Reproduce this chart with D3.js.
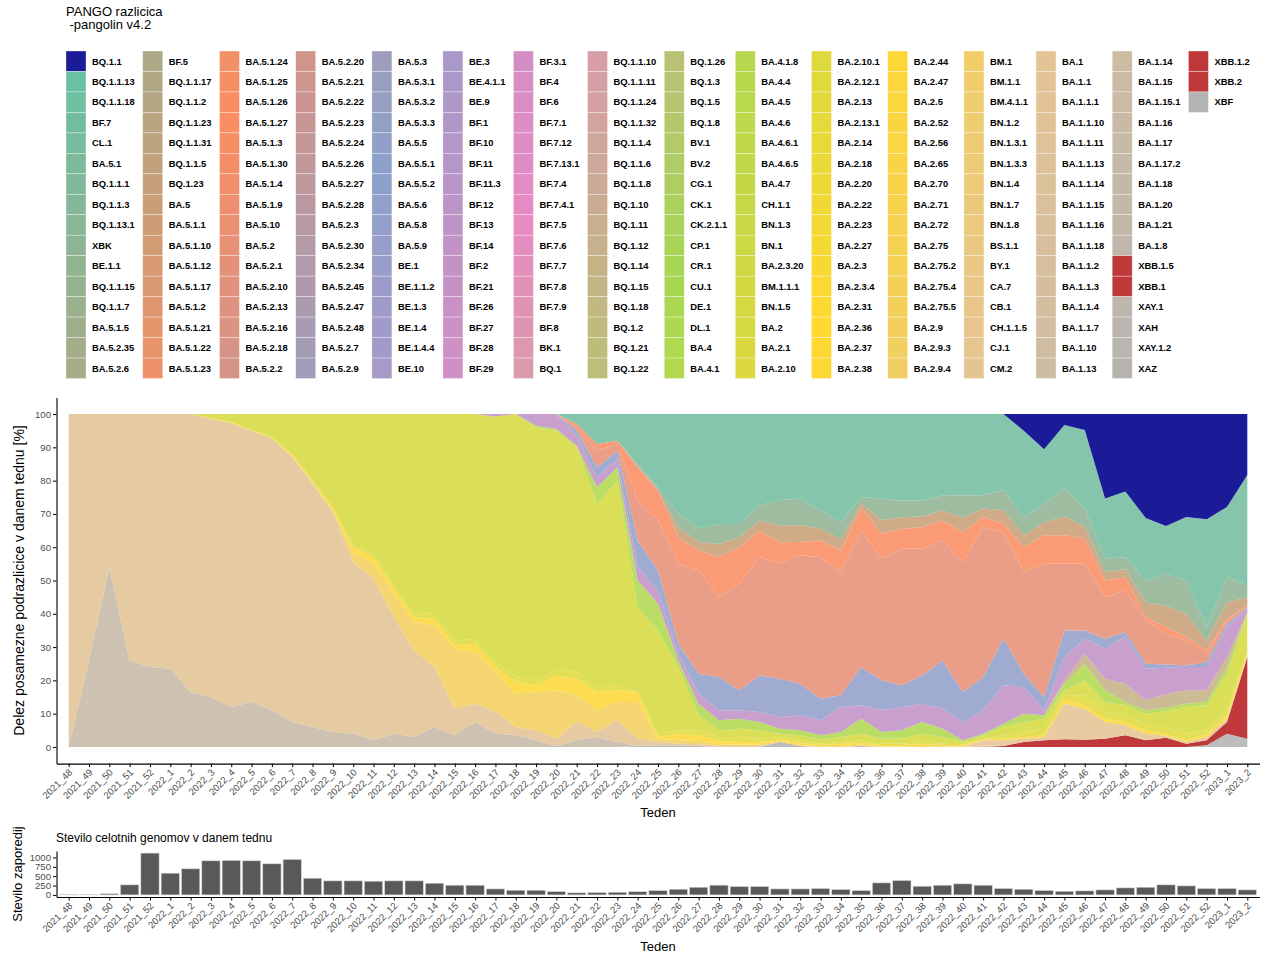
<!DOCTYPE html>
<html>
<head>
<meta charset="utf-8">
<script src="https://cdn.jsdelivr.net/npm/d3@7"></script>
<style>
  body { margin: 0; background: #fff; }
  svg text { font-family: "Liberation Sans", Arial, Helvetica, sans-serif; }
  .axis text { fill: #4d4d4d; font-size: 9.6px; }
  .axis path, .axis line { stroke: #000; }
</style>
</head>
<body>
<svg id="chart" width="1268" height="954"></svg>
<script>
// weeks (ISO year_week)
var weeks = ['2021_48','2021_49','2021_50','2021_51','2021_52',
  '2022_1','2022_2','2022_3','2022_4','2022_5','2022_6','2022_7','2022_8','2022_9','2022_10',
  '2022_11','2022_12','2022_13','2022_14','2022_15','2022_16','2022_17','2022_18','2022_19','2022_20',
  '2022_21','2022_22','2022_23','2022_24','2022_25','2022_26','2022_27','2022_28','2022_29','2022_30',
  '2022_31','2022_32','2022_33','2022_34','2022_35','2022_36','2022_37','2022_38','2022_39','2022_40',
  '2022_41','2022_42','2022_43','2022_44','2022_45','2022_46','2022_47','2022_48','2022_49','2022_50',
  '2022_51','2022_52','2023_1','2023_2'];

// number of whole genomes per week
var genomes = [8, 10, 30, 268, 1116, 580, 696, 910, 920, 910, 830, 946, 446, 375, 375,
  366, 375, 375, 312, 259, 259, 160, 125, 125, 89, 54, 62, 71, 85, 115,
  152, 205, 260, 223, 223, 160, 160, 170, 143, 116, 321, 384, 232, 259, 295,
  259, 170, 152, 116, 98, 107, 134, 187, 205, 268, 241, 170, 170, 134];

// PANGO lineages, in legend order
var lineages = [
  'BQ.1.1','BQ.1.1.13','BQ.1.1.18','BF.7','CL.1','BA.5.1','BQ.1.1.1','BQ.1.1.3','BQ.1.13.1','XBK','BE.1.1','BQ.1.1.15','BQ.1.1.7','BA.5.1.5','BA.5.2.35','BA.5.2.6',
  'BF.5','BQ.1.1.17','BQ.1.1.2','BQ.1.1.23','BQ.1.1.31','BQ.1.1.5','BQ.1.23','BA.5','BA.5.1.1','BA.5.1.10','BA.5.1.12','BA.5.1.17','BA.5.1.2','BA.5.1.21','BA.5.1.22','BA.5.1.23',
  'BA.5.1.24','BA.5.1.25','BA.5.1.26','BA.5.1.27','BA.5.1.3','BA.5.1.30','BA.5.1.4','BA.5.1.9','BA.5.10','BA.5.2','BA.5.2.1','BA.5.2.10','BA.5.2.13','BA.5.2.16','BA.5.2.18','BA.5.2.2',
  'BA.5.2.20','BA.5.2.21','BA.5.2.22','BA.5.2.23','BA.5.2.24','BA.5.2.26','BA.5.2.27','BA.5.2.28','BA.5.2.3','BA.5.2.30','BA.5.2.34','BA.5.2.45','BA.5.2.47','BA.5.2.48','BA.5.2.7','BA.5.2.9',
  'BA.5.3','BA.5.3.1','BA.5.3.2','BA.5.3.3','BA.5.5','BA.5.5.1','BA.5.5.2','BA.5.6','BA.5.8','BA.5.9','BE.1','BE.1.1.2','BE.1.3','BE.1.4','BE.1.4.4','BE.10',
  'BE.3','BE.4.1.1','BE.9','BF.1','BF.10','BF.11','BF.11.3','BF.12','BF.13','BF.14','BF.2','BF.21','BF.26','BF.27','BF.28','BF.29',
  'BF.3.1','BF.4','BF.6','BF.7.1','BF.7.12','BF.7.13.1','BF.7.4','BF.7.4.1','BF.7.5','BF.7.6','BF.7.7','BF.7.8','BF.7.9','BF.8','BK.1','BQ.1',
  'BQ.1.1.10','BQ.1.1.11','BQ.1.1.24','BQ.1.1.32','BQ.1.1.4','BQ.1.1.6','BQ.1.1.8','BQ.1.10','BQ.1.11','BQ.1.12','BQ.1.14','BQ.1.15','BQ.1.18','BQ.1.2','BQ.1.21','BQ.1.22',
  'BQ.1.26','BQ.1.3','BQ.1.5','BQ.1.8','BV.1','BV.2','CG.1','CK.1','CK.2.1.1','CP.1','CR.1','CU.1','DE.1','DL.1','BA.4','BA.4.1',
  'BA.4.1.8','BA.4.4','BA.4.5','BA.4.6','BA.4.6.1','BA.4.6.5','BA.4.7','CH.1.1','BN.1.3','BN.1','BA.2.3.20','BM.1.1.1','BN.1.5','BA.2','BA.2.1','BA.2.10',
  'BA.2.10.1','BA.2.12.1','BA.2.13','BA.2.13.1','BA.2.14','BA.2.18','BA.2.20','BA.2.22','BA.2.23','BA.2.27','BA.2.3','BA.2.3.4','BA.2.31','BA.2.36','BA.2.37','BA.2.38',
  'BA.2.44','BA.2.47','BA.2.5','BA.2.52','BA.2.56','BA.2.65','BA.2.70','BA.2.71','BA.2.72','BA.2.75','BA.2.75.2','BA.2.75.4','BA.2.75.5','BA.2.9','BA.2.9.3','BA.2.9.4',
  'BM.1','BM.1.1','BM.4.1.1','BN.1.2','BN.1.3.1','BN.1.3.3','BN.1.4','BN.1.7','BN.1.8','BS.1.1','BY.1','CA.7','CB.1','CH.1.1.5','CJ.1','CM.2',
  'BA.1','BA.1.1','BA.1.1.1','BA.1.1.10','BA.1.1.11','BA.1.1.13','BA.1.1.14','BA.1.1.15','BA.1.1.16','BA.1.1.18','BA.1.1.2','BA.1.1.3','BA.1.1.4','BA.1.1.7','BA.1.10','BA.1.13',
  'BA.1.14','BA.1.15','BA.1.15.1','BA.1.16','BA.1.17','BA.1.17.2','BA.1.18','BA.1.20','BA.1.21','BA.1.8','XBB.1.5','XBB.1','XAY.1','XAH','XAY.1.2','XAZ',
  'XBB.1.2','XBB.2','XBF'
];

// weekly share [%] of the main lineage groups
var xbf    = [0,0,0,0,0,0,0,0,0,0,0,0,0,0,0,0,0,0,0,0,0,0,0,0,0,0,0,0,0.3,0.5,0.5,0.3,0,0,0,1.5,0.3,0,0,0.3,0,0,0,0,0,0,0,0,0,0,0,0,0,0,0,0,0.5,4,2.5];
var xbb15  = [0,0,0,0,0,0,0,0,0,0,0,0,0,0,0,0,0,0,0,0,0,0,0,0,0,0,0,0,0,0,0,0,0,0,0,0,0,0,0,0,0,0,0,0,0,0,0.3,1.5,2,2.3,2.2,2.5,3.5,2,2.8,1,1.5,3.5,24.5];
var ba1172 = [0,26,54,26,24,23.5,16.5,15,12,13.5,11,7.5,6,4.5,4,2,4,3,6,3.5,7.5,4,3.5,2,0.3,2,3,1.5,0,0,0,0,0,0,0,0,0,0,0,0,0,0,0,0,0,0,0,0,0,0,0,0,0,0,0,0,0,0,0];
var ba11   = [100,74,46,74,76,76.5,83.5,83.5,85.3,81.5,81.7,79.5,73,66,51.5,48.5,35,26,18,8,5.5,6.5,2.5,3,2.2,5.5,1.5,6.5,2.2,1,0.5,0.5,0.3,0.3,0.3,0,0,0,0,0,0,0,0,0,0,0.5,0,0,0,0,0,0,0,0,0,0,0,0,0];
var cm2    = [0,0,0,0,0,0,0,0,0,0,0,0,0,0,0,0,0,0,0,0,0,0,0,0,0,0,0,0,0,0,0,0,0,0,0,0,0,0,0,0,0,0,0,0,0,1.5,1.7,1,1,10.7,9.3,5,3,2,0.5,0.5,1,1,0.5];
var ba29   = [0,0,0,0,0,0,0,0,0,0,0,0.5,0.5,0.5,3,4.5,7,8.5,12.5,18,15.5,12,10,11.5,14.5,8,6.5,5.5,11,1,1,1,0.5,0.4,0.4,0.3,0.3,0.2,0.3,0.4,0.2,0.2,0.3,0.2,0.2,0,0,0,0,0,0,0,0,0,0,0,0,0,0];
var ba244  = [0,0,0,0,0,0,0,0.2,0.2,0.3,0.3,0.5,0.5,1,1.5,2,1.5,1.5,2,1,2.5,1.5,3.5,2,4.5,5,5.5,3.5,3,0.5,2,1.7,1,0.8,0.8,0.5,0.6,0.4,0.6,0.6,0.4,0.4,0.6,0.4,0.3,0.5,0.5,0.5,0.5,1.5,1,1,1,1,0.5,0.5,1,1,0.5];
var ba2121 = [0,0,0,0,0,0,0,0,0,0,0,0,0,0,0.5,1,1,1.5,1.5,1.5,1.5,1.5,1.5,1.5,2,2,1.5,1.5,0,1,1,1.5,1.2,1.5,1,0.7,0.8,0.4,0.6,0.7,0.4,0.4,0.6,0.4,0.3,0,1,1.5,2,1,3,2,2,2,2,2,1,1.5,1];
var ba2    = [0,0,0,0,0,0,0,1.3,2.5,4.7,7,12,20,28,39.5,42,51.5,59.5,60,68,67.5,73.8,79,76,71.5,67.5,55,61.5,25.5,31,19,4.5,2,2.5,2.5,1,1.5,1.2,1.5,2,1.5,1.5,2.5,2,0.7,1,2.5,3,3,1.5,4.5,3,3,3,5,8,7.5,11,11];
var ba4    = [0,0,0,0,0,0,0,0,0,0,0,0,0,0,0,0,0,0,0,0,0,0,0,0.5,0.5,0.5,5,4,8,8,2,3.5,3,3,2.5,1.5,1.5,1.3,1.5,4.5,2,2.5,3.5,2.5,0.5,0.5,1,2.5,1,2,5,3.5,1,1,1,1,1,2,0.5];
var bq114  = [0,0,0,0,0,0,0,0,0,0,0,0,0,0,0,0,0,0,0,0,0,0,0,0,0,0,0,0,0,0,0,0,0,0,0,0,0,0,0,0,0,0,0,0,0,0,0,0,0,1,3,3.5,5.5,3,4,4,3.5,3,0];
var bf14   = [0,0,0,0,0,0,0,0,0,0,0,0,0,0,0,0,0,0,0,0,0,0.7,0,3.5,4.5,3,3,2.5,4,4,2,3,3,2.5,3,3.5,4.5,4.5,7.5,4,6.5,7,5.5,6,5.5,7,11.5,8,1.5,7,4.5,9,14,9.5,8,7,7,9,1];
var ba56   = [0,0,0,0,0,0,0,0,0,0,0,0,0,0,0,0,0,0,0,0,0,0,0,0,0,1.5,3,2.5,8,6,3,6,10,6,11,11.5,9.5,6.5,3.5,11.5,9,6.5,8.5,14.5,9,10,14,4,4,8,2.5,3,1.5,1.5,1,0.5,1.5,1,0.3];
var ba52   = [0,0,0,0,0,0,0,0,0,0,0,0,0,0,0,0,0,0,0,0,0,0,0,0,0,1,5,2,12,15,24,31,24,32,35.5,34.6,38.6,42.5,37,41,36.6,41,38,36,39,45,32,30.6,40,20,20,12.5,12.5,13,9.2,7.5,2.5,1,0.5];
var ba5127 = [0,0,0,0,0,0,0,0,0,0,0,0,0,0,0,0,0,0,0,0,0,0,0,0,0,1,2,1,10,9,8,6,12,11,8,6.4,4,5,6.5,7,7.4,6,6.5,6,9,3,2.6,7.4,8.6,8.6,7.6,5,4,1,2,1,1,0.5,0.2];
var ba5    = [0,0,0,0,0,0,0,0,0,0,0,0,0,0,0,0,0,0,0,0,0,0,0,0,0,0,0,0,0.4,0.4,3,2.6,4,3,3,5,5,3.6,3.4,1.2,4.2,3.4,3.2,3,4.4,2.6,4.1,3.6,3.8,5.6,3.6,2.6,2.4,4.4,6.4,7,2.8,5,2.4];
var be11   = [0,0,0,0,0,0,0,0,0,0,0,0,0,0,0,0,0,0,0,0,0,0,0,0,0,0,0,0,0.6,0.6,4,4,6,4,4.6,7.6,8,5.4,5.2,1.8,6.4,5,4.8,4.6,6.6,4,6,5.4,5.6,8.5,5.4,4,3.6,6.6,9.6,10,4.2,7.5,3.6];
var bf7    = [0,0,0,0,0,0,0,0,0,0,0,0,0,0,0,0,0,0,0,0,0,0,0,0,0,3,9,8,15,22,30,34.4,33,33,27.4,25.9,25.4,29,32.4,25,25.4,26,26,24.4,24.5,24.4,22.8,26,16.4,19,23.6,18,19.7,18.8,14.4,19.1,32.4,21.1,33.2];
var bq11   = [0,0,0,0,0,0,0,0,0,0,0,0,0,0,0,0,0,0,0,0,0,0,0,0,0,0,0,0,0,0,0,0,0,0,0,0,0,0,0,0,0,0,0,0,0,0,0,5,10.6,3.3,4.8,25.4,23.3,31.2,33.6,30.9,31.6,27.9,18.3];

// stacking order, bottom to top
var bandKeys = ['XBF','XBB.1.5','BA.1.17.2','BA.1.1','CM.2','BA.2.9','BA.2.44','BA.2.12.1','BA.2',
  'BA.4','BQ.1.14','BF.14','BA.5.6','BA.5.2','BA.5.1.27','BA.5','BE.1.1','BF.7','BQ.1.1'];
var bandValues = [xbf, xbb15, ba1172, ba11, cm2, ba29, ba244, ba2121, ba2,
  ba4, bq114, bf14, ba56, ba52, ba5127, ba5, be11, bf7, bq11];
var solidBands = ['BQ.1.1', 'XBB.1.5'];

var rows = weeks.map(function (w, i) {
  var r = {week: w};
  bandKeys.forEach(function (k, j) { r[k] = bandValues[j][i]; });
  return r;
});

// colours: Set2 ramp over all lineages, with a few picked out
var set2 = ['#66c2a5','#fc8d62','#8da0cb','#e78ac3','#a6d854','#ffd92f','#e5c494','#b3b3b3'];
var ramp = d3.piecewise(d3.interpolateRgb, set2);
var special = {'BQ.1.1': '#1b1a97', 'XBB.1.5': '#bf393b', 'XBB.1': '#bf393b', 'XBB.1.2': '#bf393b', 'XBB.2': '#bf393b'};
var colour = d3.scaleOrdinal()
  .domain(lineages)
  .range(lineages.map(function (l, i) { return special[l] || ramp(i / (lineages.length - 1)); }));

var svg = d3.select('#chart');

// ---- legend ----
svg.append('text').attr('x', 66).attr('y', 15.5).style('font-size', '13px').text('PANGO razlicica');
svg.append('text').attr('x', 69.5).attr('y', 28.5).style('font-size', '13px').text('-pangolin v4.2');

var rowH = 20.47, keyW = 20, legTop = 51;
var colX = 66;
d3.range(Math.ceil(lineages.length / 16)).forEach(function (c) {
  var items = lineages.slice(c * 16, c * 16 + 16);
  var g = svg.append('g').attr('transform', 'translate(' + colX + ',0)');
  g.selectAll('rect').data(items).enter().append('rect')
    .attr('x', 0)
    .attr('y', function (d, i) { return legTop + i * rowH; })
    .attr('width', keyW)
    .attr('height', rowH)
    .attr('fill', colour)
    .attr('stroke', '#fff')
    .attr('stroke-opacity', 0.55)
    .attr('stroke-width', 0.6);
  var t = g.selectAll('text').data(items).enter().append('text')
    .attr('x', 26)
    .attr('y', function (d, i) { return legTop + i * rowH + rowH / 2; })
    .attr('dy', '0.35em')
    .style('font-size', '9.4px')
    .style('font-weight', 'bold')
    .text(function (d) { return d; });
  var maxW = d3.max(t.nodes(), function (n) { return n.getComputedTextLength(); });
  colX += 26 + maxW + 8;
});

// ---- main stacked area ----
var x = d3.scalePoint().domain(weeks).range([56.5, 1259.5]).padding(0.6);
var y = d3.scaleLinear().domain([-0.05, 1.05]).range([763.6, 397.4]);

var series = d3.stack().keys(bandKeys).offset(d3.stackOffsetExpand)(rows);
var area = d3.area()
  .x(function (d) { return x(d.data.week); })
  .y0(function (d) { return y(d[0]); })
  .y1(function (d) { return y(d[1]); });

svg.append('g').selectAll('path').data(series).enter().append('path')
  .attr('d', area)
  .attr('fill', function (s) { return colour(s.key); })
  .attr('fill-opacity', function (s) { return solidBands.indexOf(s.key) >= 0 ? 1 : 0.88; });

var yAxis = svg.append('g').attr('class', 'axis')
  .attr('transform', 'translate(56.5,0)')
  .call(d3.axisLeft(y).tickValues(d3.range(0, 11).map(function (d) { return d / 10; }))
    .tickFormat(function (d) { return Math.round(d * 100); })
    .tickSize(3.5).tickSizeOuter(0).tickPadding(2));
yAxis.select('.domain').attr('stroke-width', 1.1);

function rotateLabels(sel) {
  sel.selectAll('.tick text')
    .attr('transform', 'rotate(-45)')
    .attr('text-anchor', 'end')
    .attr('x', -4).attr('y', 6).attr('dy', '0.35em');
}

var xAxis = svg.append('g').attr('class', 'axis')
  .attr('transform', 'translate(0,763.6)')
  .call(d3.axisBottom(x).tickSize(3.5).tickSizeOuter(0));
xAxis.select('.domain').attr('stroke-width', 1.1);
rotateLabels(xAxis);

svg.append('text')
  .attr('transform', 'translate(24,580.5) rotate(-90)')
  .attr('text-anchor', 'middle')
  .style('font-size', '14px')
  .text('Delez posamezne podrazlicice v danem tednu [%]');
svg.append('text').attr('x', 658).attr('y', 817).attr('text-anchor', 'middle')
  .style('font-size', '13px').text('Teden');

// ---- bottom: genomes per week ----
var maxG = d3.max(genomes);
var yb = d3.scaleLinear().domain([-0.05 * maxG, 1.05 * maxG]).range([897, 851]);
var bw = x.step() * 0.9;

svg.append('g').selectAll('rect').data(genomes).enter().append('rect')
  .attr('x', function (d, i) { return x(weeks[i]) - bw / 2; })
  .attr('y', function (d) { return yb(d); })
  .attr('width', bw)
  .attr('height', function (d) { return yb(0) - yb(d); })
  .attr('fill', '#595959')
  .attr('stroke', '#d6d6d6')
  .attr('stroke-width', 0.6);

var ybAxis = svg.append('g').attr('class', 'axis')
  .attr('transform', 'translate(56.5,0)')
  .call(d3.axisLeft(yb).tickValues([0, 250, 500, 750, 1000]).tickFormat(d3.format('d'))
    .tickSize(3.5).tickSizeOuter(0).tickPadding(2));
ybAxis.select('.domain').attr('stroke-width', 1.1);

var xbAxis = svg.append('g').attr('class', 'axis')
  .attr('transform', 'translate(0,897)')
  .call(d3.axisBottom(x).tickSize(3.5).tickSizeOuter(0));
xbAxis.select('.domain').attr('stroke-width', 1.1);
rotateLabels(xbAxis);

svg.append('text').attr('x', 56).attr('y', 842).style('font-size', '12px')
  .text('Stevilo celotnih genomov v danem tednu');
svg.append('text')
  .attr('transform', 'translate(22,874) rotate(-90)')
  .attr('text-anchor', 'middle')
  .style('font-size', '13px')
  .text('Stevilo zaporedij');
svg.append('text').attr('x', 658).attr('y', 951).attr('text-anchor', 'middle')
  .style('font-size', '13px').text('Teden');
</script>
</body>
</html>
